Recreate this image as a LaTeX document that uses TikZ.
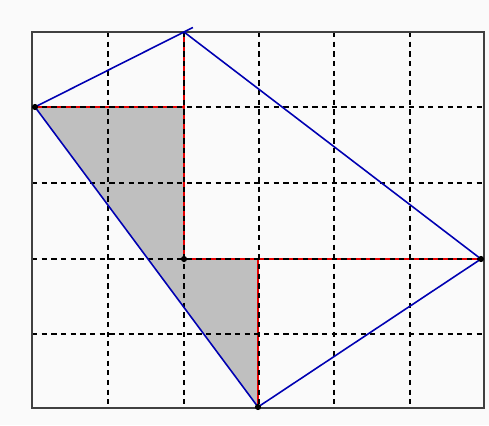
\documentclass[tikz,border=0pt]{standalone}
\usetikzlibrary{calc}
\begin{document}
\begin{tikzpicture}[x=0.02cm,y=-0.02cm,
  gridline/.style={black,line width=0.6pt,dash pattern=on 3pt off 2.5pt},
  frame/.style={black!75,line width=0.8pt},
  redline/.style={red!90!black,line width=1.6pt},
  blueline/.style={blue!70!black,line width=0.9pt},
  shade/.style={fill=black!25},
  vdot/.style={circle,fill=black,inner sep=0pt,minimum size=3.5pt}]
\fill[black!2] (0,0) rectangle (489,425);
\useasboundingbox (0,0) rectangle (489,425);
\coordinate (T) at (184,32);
\coordinate (L) at (35,107);
\coordinate (R) at (481,259);
\coordinate (B) at (258,407);
\coordinate (C1) at (184,107);
\coordinate (C2) at (184,259);
\coordinate (C3) at (258,259);
\coordinate (Tx) at ($(T)!-0.06!(L)$);
% shading
\fill[shade] (L) -- (C1) -- (C2) -- (C3) -- (B) -- cycle;
% red lines
\draw[redline] (L) -- (C1);
\draw[redline] (T) -- (C2);
\draw[redline] (C2) -- (R);
\draw[redline] (C3) -- (B);
% grid
\foreach \x in {108,184,259,334,410} \draw[gridline] (\x,32) -- (\x,408);
\foreach \y in {107,183,259,334} \draw[gridline] (32,\y) -- (484,\y);
\draw[frame] (32,32) rectangle (484,408);
% blue lines
\draw[blueline] (L) -- (Tx);
\draw[blueline] (T) -- (R);
\draw[blueline] (R) -- (B);
\draw[blueline] (B) -- (L);
% dots
\foreach \p in {L,R,B,C2} \node[vdot] at (\p) {};
\end{tikzpicture}
\end{document}
